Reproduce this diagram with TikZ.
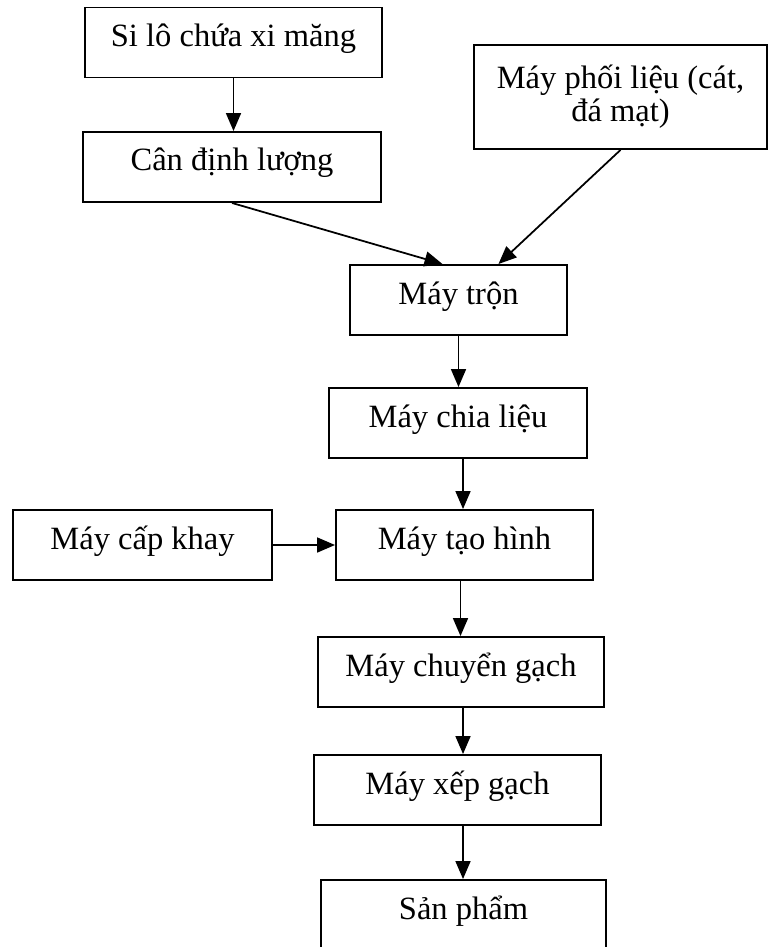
\documentclass[tikz,border=0pt]{standalone}
\usepackage{fontspec}
\setmainfont{Liberation Serif}
\usetikzlibrary{arrows.meta, positioning, calc}

\begin{document}
\begin{tikzpicture}[
  boxbase/.style={draw, line width=1.1pt, inner xsep=0pt, inner ysep=0pt, font=\fontsize{18.5}{18.7}\selectfont, align=center},
  stage/.style={boxbase, text height=0.78cm, text depth=0.62cm},
  arr/.style={-{Triangle[length=3.6mm, width=3mm]}, line width=1pt},
]
  \useasboundingbox (0,0) rectangle (15.36,-18.94);

  % nguyen lieu
  \node[stage, minimum width=5.94cm] (silo) at (4.67,-0.85) {Si lô chứa xi măng};
  \node[stage, minimum width=5.96cm] (can) at (4.64,-3.34) {Cân định lượng};
  \node[boxbase, minimum width=5.86cm, minimum height=2.08cm] (phoi) at (12.41,-1.94) {Máy phối liệu (cát,\\ đá mạt)};

  % day chuyen chinh
  \node[stage, minimum width=4.34cm] (tron) at (9.17,-6.0) {Máy trộn};
  \node[stage, minimum width=5.16cm] (chia) at (9.16,-8.46) {Máy chia liệu};
  \node[stage, minimum width=5.18cm] (capkhay) at (2.85,-10.9) {Máy cấp khay};
  \node[stage, minimum width=5.14cm] (taohinh) at (9.29,-10.9) {Máy tạo hình};
  \node[stage, minimum width=5.72cm] (chuyen) at (9.22,-13.44) {Máy chuyển gạch};
  \node[stage, minimum width=5.74cm] (xep) at (9.15,-15.8) {Máy xếp gạch};
  \node[stage, minimum width=5.70cm, text depth=0.72cm] (sanpham) at (9.27,-18.35) {Sản phẩm};

  \draw[arr] (silo.south) -- (silo.south |- can.north);
  \draw[arr] (can.south) -- (tron.114);
  \draw[arr] (phoi.south) -- (tron.42);
  \draw[arr] (tron.south) -- (tron.south |- chia.north);
  \draw[arr] ($(chia.south)+(0.1,0)$) -- ($(chia.south |- taohinh.north)+(0.1,0)$);
  \draw[arr] (capkhay) -- (taohinh);
  \draw[arr] ($(taohinh.south)+(-0.08,0)$) -- ($(taohinh.south |- chuyen.north)+(-0.08,0)$);
  \draw[arr] ($(chuyen.south)+(0.04,0)$) -- ($(chuyen.south |- xep.north)+(0.04,0)$);
  \draw[arr] ($(xep.south)+(0.11,0)$) -- ($(xep.south |- sanpham.north)+(0.11,0)$);

\end{tikzpicture}
\end{document}
